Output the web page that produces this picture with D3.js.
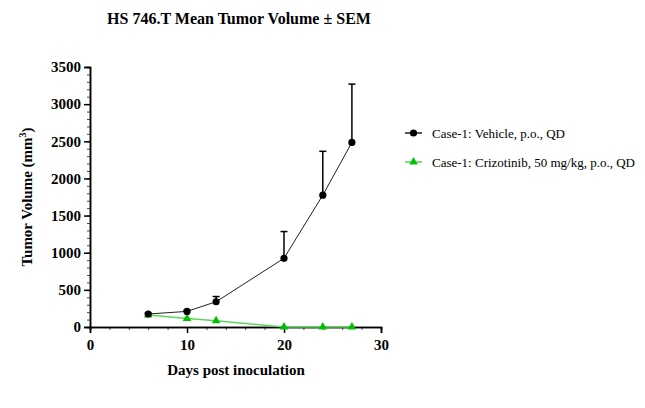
<!DOCTYPE html>
<html><head><meta charset="utf-8">
<script src="https://cdn.jsdelivr.net/npm/d3@7"></script>
<style>body{margin:0;background:#fff} svg text{font-family:'Liberation Serif','Times New Roman',serif !important}</style>
</head><body>
<svg id="c" width="645" height="408"></svg>
<script>
const days = [6, 10, 13, 20, 24, 27];
const vehicleMean = [175, 210, 340, 925, 1775, 2485];
const vehicleSem = [10, 15, 70, 360, 590, 785];
const crizoMean = [160, 115, 85, 0, 0, 0];
const crizoSem = [0, 0, 0, 0, 0, 0];
const seriesNames = ["Case-1: Vehicle, p.o., QD", "Case-1: Crizotinib, 50 mg/kg, p.o., QD"];
const xTicks = [0, 10, 20, 30];
const yTicks = [0, 500, 1000, 1500, 2000, 2500, 3000, 3500];

const svg = d3.select("#c");
const x = d3.scaleLinear().domain([0, 30]).range([90, 381]);
const y = d3.scaleLinear().domain([0, 3500]).range([327, 67]);

svg.append("text").attr("x", 239).attr("y", 24).attr("text-anchor", "middle")
  .attr("font-weight", "bold").attr("font-size", 16)
  .text("HS 746.T Mean Tumor Volume ± SEM");

const gy = svg.append("g").attr("transform", "translate(90,0)");
gy.call(d3.axisLeft(y).tickValues(d3.range(0, 3501, 100)).tickSize(3).tickFormat(""));
gy.selectAll(".tick line").attr("stroke", "#444");
const gy2 = svg.append("g").attr("transform", "translate(90,0)");
gy2.call(d3.axisLeft(y).tickValues(yTicks).tickSize(6).tickPadding(3).tickFormat(d3.format("d")));
[gy, gy2].forEach(g => g.select(".domain").attr("stroke", "#000").attr("stroke-width", 1.5));
gy2.selectAll("text").attr("font-weight", "bold").attr("font-size", 15).attr("fill", "#000");
gy2.selectAll(".tick line").attr("stroke", "#000").attr("stroke-width", 1.5);

const gx = svg.append("g").attr("transform", "translate(0,327)");
gx.call(d3.axisBottom(x).tickValues(d3.range(0, 31, 2)).tickSize(3).tickFormat(""));
gx.selectAll(".tick line").attr("stroke", "#444");
const gx2 = svg.append("g").attr("transform", "translate(0,327)");
gx2.call(d3.axisBottom(x).tickValues(xTicks).tickSize(6).tickPadding(6).tickFormat(d3.format("d")));
[gx, gx2].forEach(g => g.select(".domain").attr("stroke", "#000").attr("stroke-width", 1.5));
gx2.selectAll("text").attr("font-weight", "bold").attr("font-size", 15).attr("fill", "#000");
gx2.selectAll(".tick line").attr("stroke", "#000").attr("stroke-width", 1.5);

svg.append("text").attr("x", 236).attr("y", 375).attr("text-anchor", "middle")
  .attr("font-weight", "bold").attr("font-size", 15)
  .text("Days post inoculation");
const yt = svg.append("text").attr("transform", "translate(32,197) rotate(-90)").attr("text-anchor", "middle")
  .attr("font-weight", "bold").attr("font-size", 15);
yt.append("tspan").text("Tumor Volume (mm");
yt.append("tspan").attr("font-size", 10).attr("dy", -6).text("3");
yt.append("tspan").attr("dy", 6).text(")");

const line = d3.line().x(d => x(d[0])).y(d => y(d[1]));
const veh = days.map((d, i) => [d, vehicleMean[i], vehicleSem[i]]);
const cri = days.map((d, i) => [d, crizoMean[i], crizoSem[i]]);
const green = "#00c000";

function errBars(data, color) {
  const g = svg.append("g");
  data.filter(d => d[2] > 0).forEach(d => {
    g.append("line").attr("x1", x(d[0])).attr("x2", x(d[0])).attr("y1", y(d[1])).attr("y2", y(d[1] + d[2]))
      .attr("stroke", color).attr("stroke-width", 1.5);
    g.append("line").attr("x1", x(d[0]) - 3.5).attr("x2", x(d[0]) + 3.5).attr("y1", y(d[1] + d[2])).attr("y2", y(d[1] + d[2]))
      .attr("stroke", color).attr("stroke-width", 1.5);
  });
}
errBars(veh, "#000");
errBars(cri, green);

svg.append("path").attr("d", line(cri)).attr("fill", "none").attr("stroke", "#5cd65c").attr("stroke-width", 1.5);
svg.append("path").attr("d", line(veh)).attr("fill", "none").attr("stroke", "#222").attr("stroke-width", 1);

const tri = d3.symbol().type(d3.symbolTriangle).size(32);
svg.append("g").selectAll("path").data(cri).join("path")
  .attr("transform", d => `translate(${x(d[0])},${y(d[1])})`).attr("d", tri).attr("fill", green);
svg.append("g").selectAll("circle").data(veh).join("circle")
  .attr("cx", d => x(d[0])).attr("cy", d => y(d[1])).attr("r", 3.6).attr("fill", "#000");

const lg = svg.append("g");
[0, 1].forEach(i => {
  const yy = 133 + i * 29;
  const col = i === 0 ? "#000" : green;
  lg.append("line").attr("x1", 405).attr("x2", 422).attr("y1", yy).attr("y2", yy)
    .attr("stroke", i === 0 ? "#222" : "#5cd65c").attr("stroke-width", 1.5);
  if (i === 0) lg.append("circle").attr("cx", 413.5).attr("cy", yy).attr("r", 3.6).attr("fill", col);
  else lg.append("path").attr("transform", `translate(413.5,${yy})`).attr("d", tri).attr("fill", col);
  lg.append("text").attr("x", 432).attr("y", yy + 4.5).attr("font-size", 13)
    .text(seriesNames[i]);
});
</script>
</body></html>
